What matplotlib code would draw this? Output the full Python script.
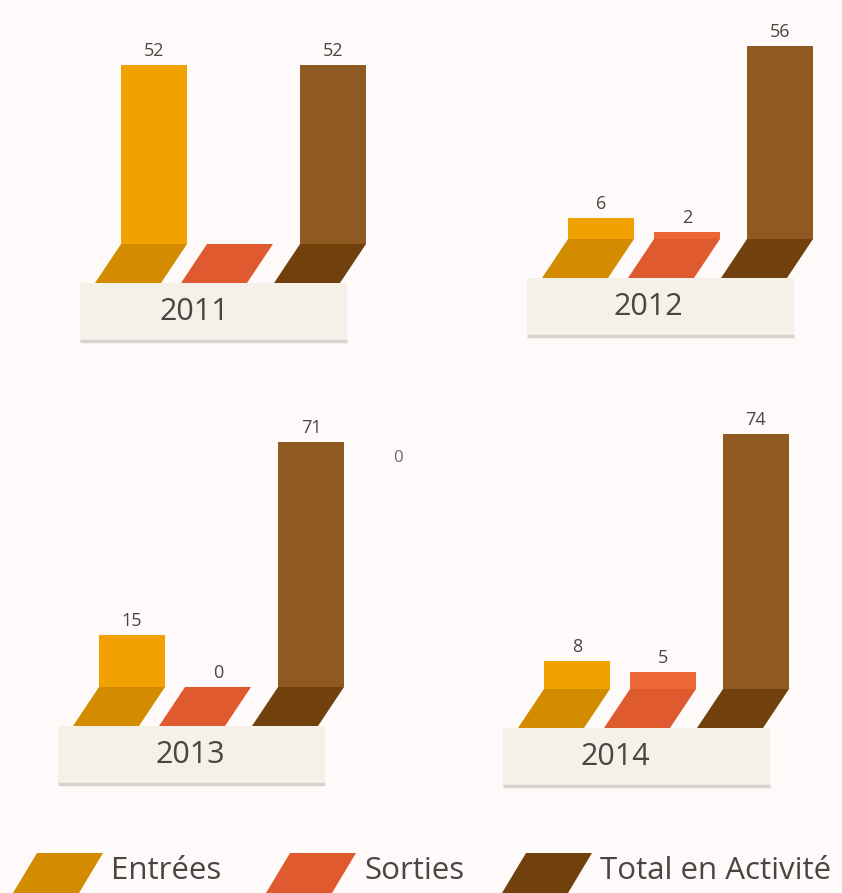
import matplotlib.pyplot as plt
import matplotlib.patches as patches

plt.rcParams['font.family'] = ['Open Sans', 'DejaVu Sans']

# données
years = ['2011', '2012', '2013', '2014']
entrees = [52, 6, 15, 8]
sorties = [None, 2, 0, 5]      # 2011 : pas de valeur affichée
total = [52, 56, 71, 74]
series_names = ['Entrées', 'Sorties', 'Total en Activité']

front_colors = ['#F2A200', '#EC6636', '#8E5A22']
base_colors = ['#D38C00', '#E05A30', '#70410D']
BG = '#FEFAF9'
BOX = '#F5F0E8'
TXT = '#4A4542'

W, H = 842, 893
PX = 3.45          # pixels par unité
BAR_W = 66
SKEW = 26
DEPTH = 39
BOX_H = 58
OFFSETS = [0, 86, 179]

# coin bas-gauche du socle "Entrées" de chaque bloc (pixels, origine en haut)
origins = [(95, 283), (542, 278), (73, 726), (518, 728)]
year_dx = [99, 106, 117, 97]

fig = plt.figure(figsize=(W / 100, H / 100), dpi=100, facecolor=BG)


def panel_axes(ox, oy):
    # x en pixels relatifs au bloc, y en unités de valeur (0 = haut du socle)
    x0, x1 = -40, 340
    top = oy - DEPTH
    above = min(top, 320)
    below = DEPTH + BOX_H + 10
    ax = fig.add_axes([(ox + x0) / W, 1 - (top + below) / H,
                       (x1 - x0) / W, (above + below) / H])
    ax.set_xlim(x0, x1)
    ax.set_ylim(-below / PX, above / PX)
    ax.axis('off')
    ax.patch.set_alpha(0)
    return ax


for i, year in enumerate(years):
    ax = panel_axes(*origins[i])
    d = DEPTH / PX
    values = [entrees[i], sorties[i], total[i]]
    for j, v in enumerate(values):
        o = OFFSETS[j]
        base = patches.Polygon([(o, -d), (o + BAR_W, -d), (o + BAR_W + SKEW, 0), (o + SKEW, 0)],
                               closed=True, facecolor=base_colors[j], edgecolor='none', zorder=3)
        ax.add_patch(base)
        if v is None:
            continue
        ax.bar(o + SKEW, v, width=BAR_W, bottom=0, align='edge',
               color=front_colors[j], linewidth=0, zorder=2)
        ax.text(o + SKEW + BAR_W / 2, v + 14 / PX, str(v), ha='center', va='center',
                fontsize=13, color=TXT, zorder=4)

    # cartouche de l'année
    yb = -(DEPTH + BOX_H) / PX
    ax.add_patch(patches.Rectangle((-15, yb), 267, BOX_H / PX, facecolor=BOX,
                                   edgecolor='none', zorder=1))
    ax.plot([-15, 252], [yb, yb], color='#D6D2CE', lw=2.5, zorder=1,
            solid_capstyle='butt')
    ax.text(year_dx[i], -(DEPTH + BOX_H / 2) / PX, year, ha='center', va='center',
            fontsize=22, color=TXT, zorder=4)

    if year == '2013':
        ax.text(325, 229 / PX, '0', ha='center', va='center', fontsize=12,
                color='#6A6663', zorder=4)

# légende
lax = fig.add_axes([0, 0, 1, 1])
lax.set_xlim(0, W)
lax.set_ylim(H, 0)
lax.axis('off')
lax.patch.set_alpha(0)
leg_x = [13, 266, 502]
leg_w, leg_skew, leg_top, leg_bot = 66, 24, 853, 893
for x, name, c in zip(leg_x, series_names, base_colors):
    lax.add_patch(patches.Polygon([(x, leg_bot), (x + leg_w, leg_bot),
                                   (x + leg_w + leg_skew, leg_top), (x + leg_skew, leg_top)],
                                  closed=True, facecolor=c, edgecolor='none'))
    lax.text(x + leg_w + leg_skew + 8, 871, name, ha='left', va='center',
             fontsize=22.5, color=TXT)

fig.savefig('out.png', dpi=100, facecolor=BG)
